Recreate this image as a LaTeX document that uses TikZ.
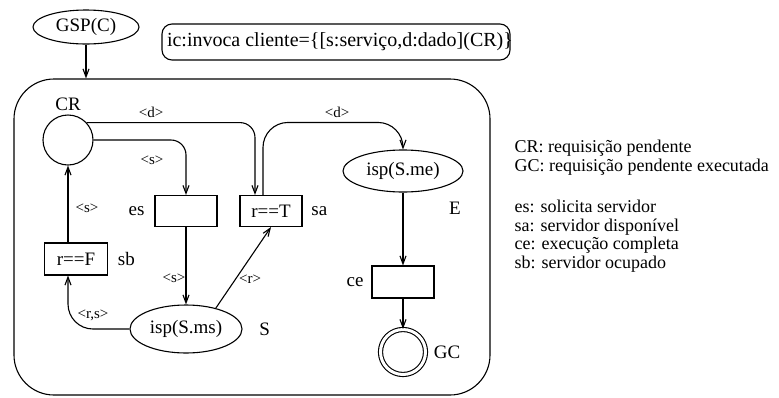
\documentclass[tikz,border=0pt]{standalone}
\usepackage{fontspec}
\setmainfont{Liberation Serif}
\usetikzlibrary{arrows.meta,shapes.geometric}

\newcommand{\tfont}{\fontsize{19}{19}\selectfont}
\newcommand{\lfont}{\fontsize{18}{18.6}\selectfont}
\newcommand{\afont}{\fontsize{15}{15}\selectfont}

\tikzset{
  lugar/.style={draw, circle, inner sep=0pt, minimum size=50pt},
  transicao/.style={draw, rectangle, inner sep=0pt, minimum width=62pt, minimum height=31pt, font=\tfont},
  espaco/.style={draw, ellipse, inner sep=0pt, minimum width=120pt, minimum height=42pt, font=\tfont},
  rotulo/.style={font=\tfont},
  arco/.style={font=\afont, inner sep=1pt},
  seta/.style={-{Straight Barb[length=8pt,width=6pt]}},
}

\begin{document}
\begin{tikzpicture}[x=1pt,y=-1pt,line width=1.1pt]
  \useasboundingbox (0,0) rectangle (779,397);

  % cabecalho
  \node[espaco, minimum width=106pt, minimum height=34pt] (GSP) at (86,27) {GSP(C)};
  \node[draw, rounded corners=10pt, inner sep=0pt, minimum width=348pt, minimum height=36pt] (ic) at (336,42) {};
  \node[anchor=west, inner sep=0pt, font=\fontsize{20}{20}\selectfont] (ictxt) at ([xshift=5pt]ic.west)
    {ic:invoca cliente=\{[s:serviço,d:dado](CR)\}};
  \node[draw, rounded corners=40pt, minimum width=476pt, minimum height=316pt] (quadro) at (252,237) {};
  \draw[seta] (GSP.south) -- (GSP.south |- quadro.north);

  % lugares e transicoes
  \node[lugar] (CR) at (68,140) {};
  \node[rotulo, anchor=south] (lblCR) at (CR.north) {CR};
  \node[transicao] (es) at (186,211) {};
  \node[transicao] (sa) at (271,211) {r==T};
  \node[transicao, minimum width=63pt, minimum height=32pt] (sb) at (76,259) {r==F};
  \node[espaco] (E) at (403,171) {isp(S.me)};
  \node[transicao, minimum height=32pt] (ce) at (403,282) {};
  \node[lugar, double, double distance=3pt, minimum size=45pt] (GC) at (403,352) {};
  \node[espaco, minimum width=112pt, minimum height=48pt] (S) at (186,329) {isp(S.ms)};

  \node[rotulo, anchor=east] (lblES) at ([xshift=-6pt]es.west) {es};
  \node[rotulo, anchor=west] (lblSA) at ([xshift=5pt]sa.east) {sa};
  \node[rotulo, anchor=west] (lblSB) at ([xshift=6pt]sb.east) {sb};
  \node[rotulo, anchor=east] (lblCE) at ([xshift=-4pt]ce.west) {ce};
  \node[rotulo, anchor=west] (lblGC) at ([xshift=4pt]GC.east) {GC};
  \node[rotulo, anchor=west] (lblS) at ([xshift=13pt]S.east) {S};
  \node[rotulo] (lblE) at (455,208) {E};

  % arcos
  \draw[seta, rounded corners=15pt] (CR.43) -| ([xshift=-16pt]sa.north);
  \draw[seta, rounded corners=15pt] (CR.east) -| (es.north);
  \draw[seta, rounded corners=25pt] ([xshift=-8pt]sa.north) |- ([yshift=27pt]E.north) -- (E.north);
  \draw[seta] (E.south) -- (ce.north);
  \draw[seta] (ce.south) -- (GC.north);
  \draw[seta] ([xshift=-8pt]sb.north) -- (CR.south);
  \draw[seta] (es.south) -- (S.north);
  \draw[seta] (S.35) -- (sa.south);
  \draw[seta, rounded corners=25pt] (S.west) -| ([xshift=-8pt]sb.south);

  \node[arco] (d1) at (151,112) {\textless d\textgreater};
  \node[arco] (d2) at (337,112) {\textless d\textgreater};
  \node[arco] (s1) at (152,160) {\textless s\textgreater};
  \node[arco] (s2) at (87,208) {\textless s\textgreater};
  \node[arco] (s3) at (174,278) {\textless s\textgreater};
  \node[arco] (r1) at (250,279) {\textless r\textgreater};
  \node[arco] (rs) at (93,315) {\textless r,s\textgreater};

  % legenda
  \node[font=\lfont, anchor=west, align=left, inner sep=0pt] (leg1) at (514,157.5)
    {CR: requisição pendente\\GC: requisição pendente executada};
  \node[font=\lfont, anchor=west, align=left, inner sep=0pt] (leg2) at (514,236)
    {es: solicita servidor\\sa: servidor disponível\\ce: execução completa\\sb: servidor ocupado};
\end{tikzpicture}
\end{document}
